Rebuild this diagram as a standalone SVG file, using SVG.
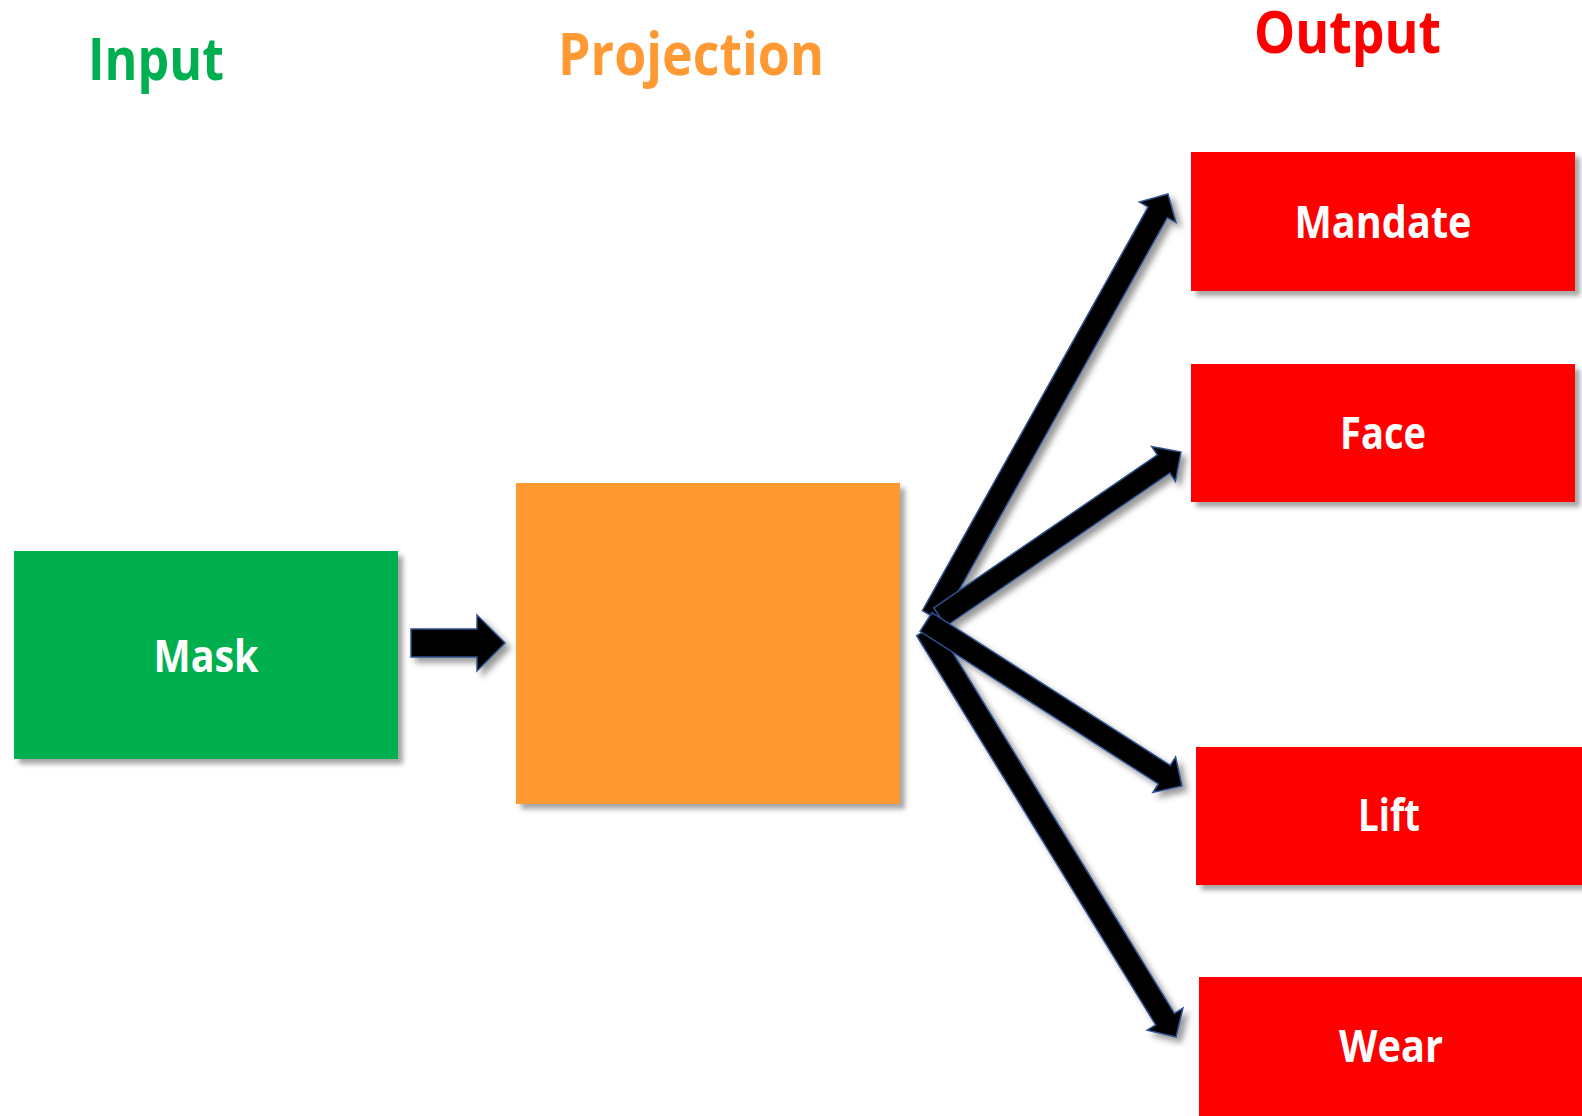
<svg xmlns="http://www.w3.org/2000/svg" width="1582" height="1116" viewBox="0 0 1582 1116">
<defs>
<filter id="sh" x="-10%" y="-10%" width="130%" height="130%">
<feDropShadow dx="5" dy="5" stdDeviation="2.5" flood-color="#000" flood-opacity="0.35"/>
</filter>
<filter id="ash" x="-20%" y="-20%" width="140%" height="140%">
<feDropShadow dx="5" dy="5" stdDeviation="3" flood-color="#000" flood-opacity="0.4"/>
</filter>
<style>
.hdr{font-family:"Open Sans","Liberation Sans",sans-serif;font-weight:bold;font-size:59px}
.lbl{font-family:"Open Sans","Liberation Sans",sans-serif;font-weight:bold;font-size:44px;fill:#fff;text-anchor:middle}
.arr{fill:#000;stroke:#2F528F;stroke-width:1.5;stroke-linejoin:miter}
</style>
</defs>
<rect width="1582" height="1116" fill="#fff"/>

<g id="headers">
<text class="hdr" x="88" y="80" fill="#00B050" textLength="136" lengthAdjust="spacingAndGlyphs">Input</text>
<text class="hdr" x="558" y="75" fill="#FF9933" textLength="266" lengthAdjust="spacingAndGlyphs">Projection</text>
<text class="hdr" x="1254" y="53" fill="#FF0000" textLength="187" lengthAdjust="spacingAndGlyphs">Output</text>
</g>

<g id="node-mask">
<rect x="14" y="551" width="384" height="208" fill="#00B050" filter="url(#sh)"/>
<text class="lbl" x="206" y="672" textLength="105" lengthAdjust="spacingAndGlyphs">Mask</text>
</g>

<g id="node-projection">
<rect x="516" y="483" width="384" height="321" fill="#FF9933" filter="url(#sh)"/>
</g>

<g id="node-mandate">
<rect x="1191" y="152" width="384" height="139" fill="#FF0000" filter="url(#sh)"/>
<text class="lbl" x="1383" y="238" textLength="177" lengthAdjust="spacingAndGlyphs">Mandate</text>
</g>

<g id="node-face">
<rect x="1191" y="364" width="384" height="138" fill="#FF0000" filter="url(#sh)"/>
<text class="lbl" x="1383" y="449" textLength="86" lengthAdjust="spacingAndGlyphs">Face</text>
</g>

<g id="node-lift">
<rect x="1196" y="747" width="386" height="138" fill="#FF0000" filter="url(#sh)"/>
<text class="lbl" x="1389" y="831" textLength="62" lengthAdjust="spacingAndGlyphs">Lift</text>
</g>

<g id="node-wear">
<rect x="1199" y="977" width="383" height="139" fill="#FF0000" filter="url(#sh)"/>
<text class="lbl" x="1391" y="1062" textLength="104" lengthAdjust="spacingAndGlyphs">Wear</text>
</g>

<g id="connectors" filter="url(#ash)">
<polygon class="arr" points="411,629 477,629 477,615 505,643 477,671 477,657 411,657"/>
<polygon class="arr" transform="translate(932,616) rotate(-60.79)" points="0,-11 462.5,-11 462.5,-21 483.5,0 462.5,21 462.5,11 0,11"/>
<polygon class="arr" transform="translate(940,617) rotate(-34.4)" points="0,-11 271,-11 271,-21 292,0 271,21 271,11 0,11"/>
<polygon class="arr" transform="translate(926,630) rotate(58.44)" points="0,-11 456.7,-11 456.7,-21 477.7,0 456.7,21 456.7,11 0,11"/>
<polygon class="arr" transform="translate(926,622) rotate(32.65)" points="0,-11 283,-11 283,-21 304,0 283,21 283,11 0,11"/>
</g>
</svg>
